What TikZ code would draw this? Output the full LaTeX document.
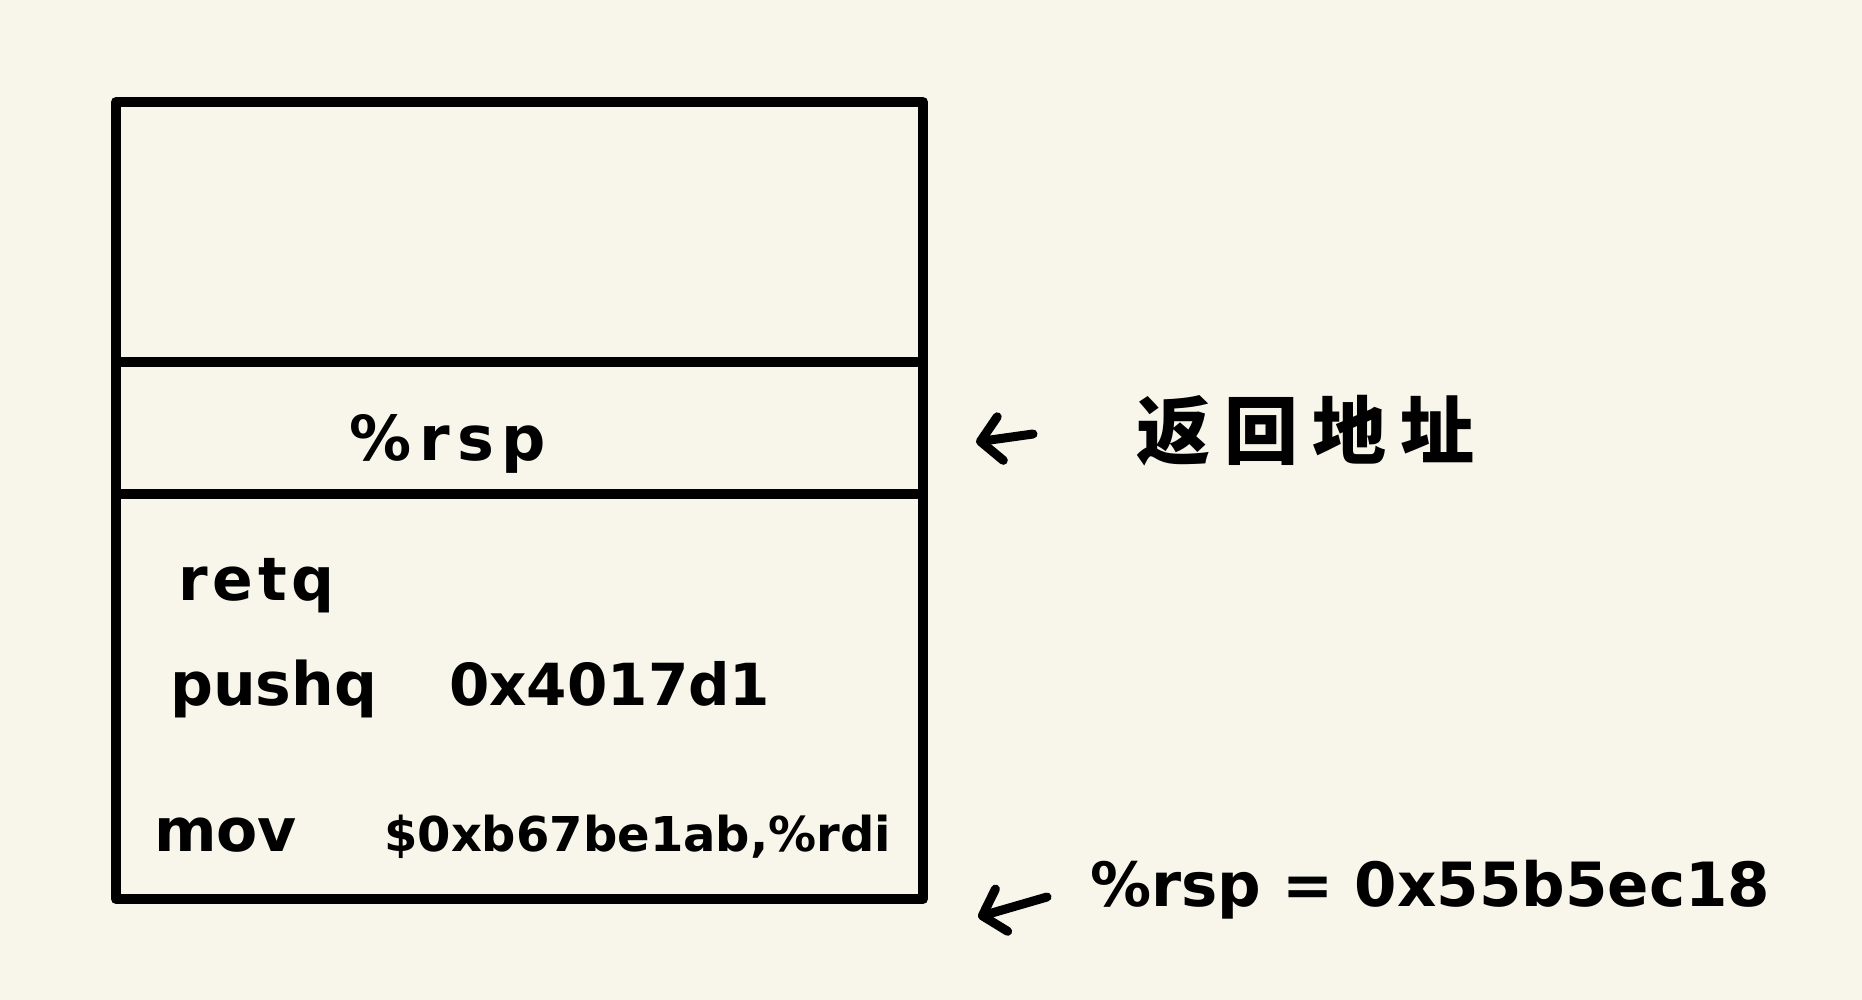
\documentclass[tikz,border=0pt]{standalone}
\usepackage{fontspec}
\setmainfont{DejaVu Sans}
\newfontfamily\cjk{Noto Sans CJK SC}
\usetikzlibrary{arrows.meta}
\definecolor{paper}{HTML}{F8F6EA}
\tikzset{
  ink/.style={line width=10pt, line cap=round, line join=round, black},
  hand/.style={inner sep=0pt, text=black},
  arr/.style={line width=9pt, line cap=round, -{Straight Barb[length=20pt, width=44pt, line width=9pt, round]}},
}
\newcommand{\hf}[1]{\bfseries\fontsize{#1}{#1}\selectfont}
\begin{document}
\begin{tikzpicture}[x=1pt,y=-1pt]
  \fill[paper] (0,0) rectangle (1862,1000);
  \useasboundingbox (0,0) rectangle (1862,1000);
  % stack frame
  \draw[ink] (116,102) rectangle (923,899);
  \coordinate (l1a) at (116,362); \coordinate (l1b) at (917,362);
  \coordinate (l2a) at (116,494); \coordinate (l2b) at (917,494);
  \draw[ink] (l1a) -- (l1b);
  \draw[ink] (l2a) -- (l2b);
  % texts
  \node[hand, anchor=base, font={\hf{62}\addfontfeature{LetterSpace=12}}] (rsp) at (448,460) {\%rsp};
  \node[hand, anchor=base west, font={\hf{60}\addfontfeature{LetterSpace=8}}] (retq) at (178,600) {retq};
  \node[hand, anchor=base west, font=\hf{60}] (pushq) at (170,705) {pushq};
  \node[hand, anchor=base west, font=\hf{58}] (addr) at (449,705) {0x4017d1};
  \node[hand, anchor=base west, font={\hf{60}}] (mov) at (154,851) {mov};
  \node[hand, anchor=base west, font=\hf{48}] (arg) at (384,851) {\$0xb67be1ab,\%rdi};
  \node[hand, anchor=base west, font={\cjk\bfseries\fontsize{74}{74}\selectfont\addfontfeature{LetterSpace=19}}] (ret) at (1136,458) {返回地址};
  \node[hand, anchor=base west, font=\hf{61}] (val) at (1090,906) {\%rsp = 0x55b5ec18};
  % arrows
  \coordinate (a1s) at (1033,434); \coordinate (a1e) at (976,442);
  \coordinate (a2s) at (1047,897); \coordinate (a2e) at (978,917);
  \draw[arr] (a1s) -- (a1e);
  \draw[arr] (a2s) -- (a2e);
\end{tikzpicture}
\end{document}
